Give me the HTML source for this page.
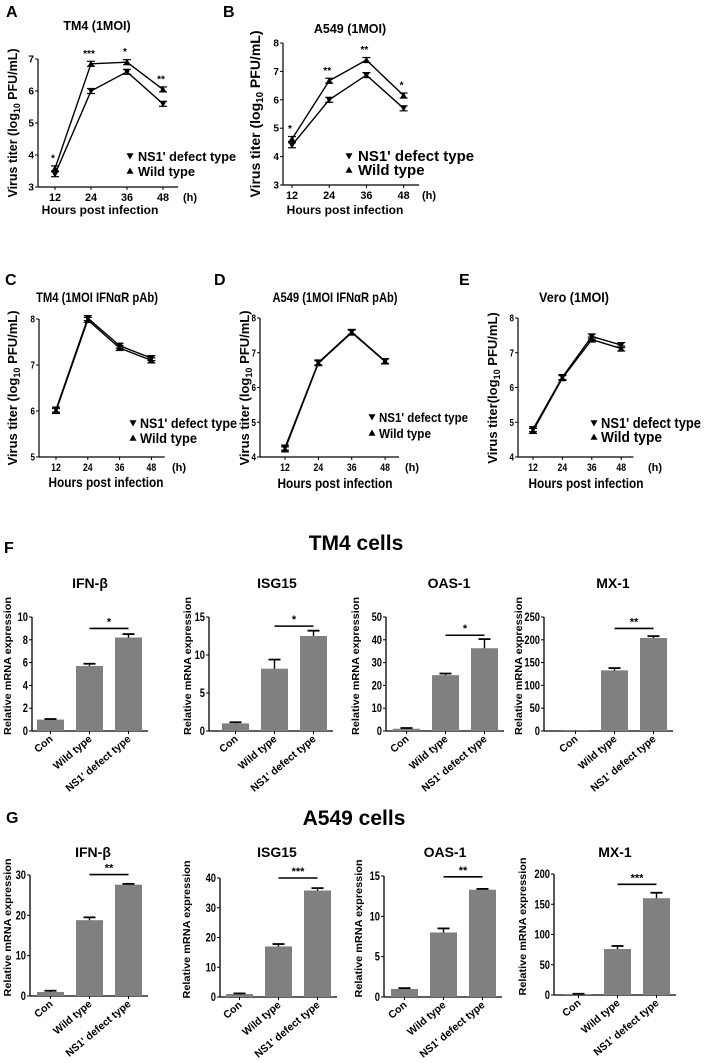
<!DOCTYPE html>
<html><head><meta charset="utf-8">
<style>
html,body{margin:0;padding:0;background:#fff;}
svg{display:block;font-family:"Liberation Sans",Arial,sans-serif;}
.b{font-weight:bold;}
</style></head>
<body>
<svg id="fig" width="706" height="1063" viewBox="0 0 706 1063" xmlns="http://www.w3.org/2000/svg">
</svg>
<script>
// ---------- DATA ----------
const hours=[12,24,36,48];
const A_ns=[3.4,6.0,6.6,5.6];
const A_wt=[3.58,6.85,6.9,6.05];
const A_sig=['*','***','*','**'];
const B_ns=[4.4,6.0,6.87,5.7];
const B_wt=[4.62,6.67,7.4,6.15];
const B_sig=['*','**','**','*'];
const C_ns=[6.03,8.02,7.42,7.15];
const C_wt=[6.0,7.98,7.37,7.1];
const D_ns=[4.27,6.72,7.6,6.76];
const D_wt=[4.22,6.7,7.58,6.75];
const E_ns=[4.8,6.3,7.47,7.22];
const E_wt=[4.75,6.27,7.38,7.12];
const groups=['Con','Wild type',"NS1' defect type"];
const F_ifn=[1.0,5.7,8.2], F_ifn_err=[0.05,0.2,0.3];
const F_isg=[1.0,8.2,12.5], F_isg_err=[0.15,1.2,0.7];
const F_oas=[1.0,24.5,36.3], F_oas_err=[0.3,0.7,4.0];
const F_mx=[0.5,133,204], F_mx_err=[0,5,4];
const G_ifn=[1.0,18.8,27.6], G_ifn_err=[0.3,0.7,0.2];
const G_isg=[1.0,17.0,35.8], G_isg_err=[0.2,0.8,0.8];
const G_oas=[1.0,8.0,13.3], G_oas_err=[0.1,0.5,0.1];
const G_mx=[1.5,76,160], G_mx_err=[0.5,5,9];
const ticks_F_ifn=[0,2,4,6,8,10], ticks_F_isg=[0,5,10,15], ticks_F_oas=[0,10,20,30,40,50], ticks_F_mx=[0,50,100,150,200,250];
const ticks_G_ifn=[0,10,20,30], ticks_G_isg=[0,10,20,30,40], ticks_G_oas=[0,5,10,15], ticks_G_mx=[0,50,100,150,200];

// ---------- HELPERS ----------
const svg=document.getElementById('fig');
const NS='http://www.w3.org/2000/svg';
function mk(tag,attrs,parent,txt){const e=document.createElementNS(NS,tag);for(const k in attrs)e.setAttribute(k,attrs[k]);if(txt!==undefined)e.textContent=txt;(parent||svg).appendChild(e);return e;}
function grp(name){const g=mk('g',{});


return g;}
function txt(p,x,y,s,size,extra,tl){const a=Object.assign({x:x,y:y,'font-size':size,class:'b'},extra||{});if(tl){a.textLength=tl;a.lengthAdjust='spacingAndGlyphs';}const t=mk('text',a,p,s);


return t;}
function tri(p,x,y,down,s){s=s||3.6;const pts=down?`${x-s},${y-s*0.8} ${x+s},${y-s*0.8} ${x},${y+s}`:`${x-s},${y+s*0.8} ${x+s},${y+s*0.8} ${x},${y-s}`;const e=mk('polygon',{points:pts,fill:'#000'},p);


return e;}

function lineChart(o){
  const g=grp(o.name);
  const X=h=>o.x0+(h-12)*o.step;
  const Y=v=>o.yb-(v-o.ymin)*(o.yb-o.yt)/(o.ymax-o.ymin);
  const nar=o.narrow?0.8:1;
  mk('line',{x1:o.ax,y1:Y(o.ymax),x2:o.ax,y2:o.yb,stroke:'#000','stroke-width':1.2},g);
  mk('line',{x1:o.ax,y1:o.yb,x2:X(48)+o.step*5,y2:o.yb,stroke:'#000','stroke-width':1.2},g);
  for(let v=o.ymin;v<=o.ymax;v++){mk('line',{x1:o.ax-3,y1:Y(v),x2:o.ax,y2:Y(v),stroke:'#000'},g);txt(g,o.ax-4,Y(v)+o.fs*0.35,String(v),o.fs,{'text-anchor':'end'},o.fs*0.56*nar);}
  hours.forEach(h=>{mk('line',{x1:X(h),y1:o.yb,x2:X(h),y2:o.yb+3,stroke:'#000'},g);txt(g,X(h),o.xty,String(h),o.fs+1,{'text-anchor':'middle'},(o.fs+1)*1.1*nar);});
  txt(g,o.hx,o.xty,'(h)',o.fs+1,{'text-anchor':'start'});
  [[o.ns,true],[o.wt,false]].forEach(([arr,down])=>{
    const d=arr.map((v,i)=>(i?'L':'M')+X(hours[i])+','+Y(v)).join(' ');
    const pl=mk('path',{d:d,fill:'none',stroke:'#000','stroke-width':1.4},g);
    
    
    arr.forEach((v,i)=>{const x=X(hours[i]),y=Y(v);
      mk('line',{x1:x-4,y1:y-2.5,x2:x+4,y2:y-2.5,stroke:'#000','stroke-width':1.2},g);
      mk('line',{x1:x-4,y1:y+2.5,x2:x+4,y2:y+2.5,stroke:'#000','stroke-width':1.2},g);
      tri(g,x,y,down,o.ms||3.4);});
  });
  if(o.sig)o.sig.forEach((s,i)=>{const v=Math.max(o.ns[i],o.wt[i]);txt(g,X(hours[i])-2,Y(v)-7,s,10,{'text-anchor':'middle'});});
  tri(g,o.lx,o.ly,true,3.5);txt(g,o.ltx,o.ly+5,"NS1' defect type",o.lfs,{},o.ltl1);
  tri(g,o.lx,o.ly+o.lg,false,3.5);txt(g,o.ltx,o.ly+o.lg+5,'Wild type',o.lfs,{},o.ltl2);
  txt(g,o.tx,o.ty,o.title,o.tfs,{'text-anchor':'middle'},o.ttl);
  txt(g,o.xlx,o.xly,'Hours post infection',o.hfs||12,{'text-anchor':'middle'},o.htl);
  const yl=mk('text',{transform:`translate(${o.ylx},${o.ylc}) rotate(-90)`,'text-anchor':'middle','font-size':o.ylfs||12,class:'b'},g);
  
  
  yl.appendChild(document.createTextNode(o.ylab));
  mk('tspan',{'font-size':(o.ylfs||12)*0.7,dy:3},yl,'10');
  mk('tspan',{dy:-3},yl,' PFU/mL)');
  txt(g,o.letX,o.letY,o.letter,16,{});
}

function barChart(o){
  const g=grp(o.name);
  const Y=v=>o.yb-v*(o.yb-o.yt)/o.ymax;
  const w=27, sp=39;
  const bx=i=>o.ax+o.s+i*sp;
  mk('line',{x1:o.ax,y1:o.yt,x2:o.ax,y2:o.yb,stroke:'#000','stroke-width':1.3},g);
  mk('line',{x1:o.ax,y1:o.yb,x2:bx(2)+w+6,y2:o.yb,stroke:'#000','stroke-width':1.3},g);
  o.ticks.forEach(v=>{mk('line',{x1:o.ax-3,y1:Y(v),x2:o.ax,y2:Y(v),stroke:'#000'},g);const s=String(v);txt(g,o.ax-4,Y(v)+4,s,12,{'text-anchor':'end'},s.length*5.2);});
  o.vals.forEach((v,i)=>{const x=bx(i);
    const r=mk('rect',{x:x,y:Y(v),width:w,height:o.yb-Y(v),fill:'#808080'},g);
    
    
    const e=o.errs[i];if(e>0){mk('line',{x1:x+w/2,y1:Y(v),x2:x+w/2,y2:Y(v+e),stroke:'#000','stroke-width':1.4},g);mk('line',{x1:x+w/2-6,y1:Y(v+e),x2:x+w/2+6,y2:Y(v+e),stroke:'#000','stroke-width':1.8},g);}
    const cx=x+w/2;
    mk('line',{x1:cx,y1:o.yb,x2:cx,y2:o.yb+3,stroke:'#000'},g);
    txt(g,cx+3,o.yb+9,groups[i],10.5,{'text-anchor':'end',transform:`rotate(-40 ${cx+3} ${o.yb+9})`});
  });
  const sy=Y(o.sigv);
  mk('line',{x1:bx(1)+w/2,y1:sy,x2:bx(2)+w/2,y2:sy,stroke:'#000','stroke-width':1.6},g);
  txt(g,(bx(1)+bx(2))/2+w/2,sy-3,o.sig,11,{'text-anchor':'middle'});
  txt(g,o.tx,o.ty,o.title,14,{'text-anchor':'middle'});
  txt(g,0,0,'Relative mRNA expression',10.5,{'text-anchor':'middle',transform:`translate(${o.ylx+4},${(o.yt+o.yb)/2-8}) rotate(-90)`},138);
}

// ---------- PANELS ----------
lineChart({name:'panel-a',ns:A_ns,wt:A_wt,sig:A_sig,ax:38,x0:55,step:3,yt:59,yb:187,ymin:3,ymax:7,fs:10,xty:201,hx:183,
  lx:130,ltx:138,ly:156,lg:15,lfs:13,ltl1:98,ltl2:57,tx:97,ty:30,title:'TM4 (1MOI)',tfs:12.5,xlx:100,xly:214,ylx:17,ylc:123,ylab:'Virus titer (log',ylfs:12.5,letter:'A',letX:6,letY:17});
lineChart({name:'panel-b',ns:B_ns,wt:B_wt,sig:B_sig,ax:283,x0:292,step:3.1,yt:43,yb:185,ymin:3,ymax:8,fs:10,xty:199,hx:422,
  lx:349,ltx:358,ly:156,lg:14,lfs:15,tx:350,ty:33,title:'A549 (1MOI)',tfs:12.5,xlx:345,xly:214,ylx:260,ylc:114,ylab:'Virus titer (log',ylfs:14,letter:'B',letX:223,letY:17});
lineChart({name:'panel-c',ns:C_ns,wt:C_wt,ax:39,x0:56,step:2.65,yt:319,yb:457,ymin:5,ymax:8,fs:10,narrow:true,xty:471,hx:172,
  lx:133,ltx:140,ly:423,lg:15,lfs:14,ltl1:97,ltl2:57,tx:97,ty:302,title:'TM4 (1MOI  IFNαR pAb)',tfs:14,ttl:122,xlx:106,xly:487,hfs:14,htl:115,ylx:17,ylc:388,ylab:'Virus titer (log',ylfs:13,letter:'C',letX:5,letY:285});
lineChart({name:'panel-d',ns:D_ns,wt:D_wt,ax:260,x0:285,step:2.78,yt:318,yb:457,ymin:4,ymax:8,fs:10,narrow:true,xty:471,hx:405,
  lx:372,ltx:379,ly:417,lg:16,lfs:13,ltl1:89,ltl2:52,tx:335,ty:302,title:'A549 (1MOI  IFNαR pAb)',tfs:14,ttl:125,xlx:335,xly:488,hfs:14,htl:115,ylx:249,ylc:388,ylab:'Virus titer (log',ylfs:13,letter:'D',letX:214,letY:285});
lineChart({name:'panel-e',ns:E_ns,wt:E_wt,ax:518,x0:533,step:2.45,yt:318,yb:457,ymin:4,ymax:8,fs:10,narrow:true,xty:471,hx:648,
  lx:594,ltx:601,ly:423,lg:14,lfs:15,ltl1:100,ltl2:61,tx:574,ty:302,title:'Vero (1MOI)',tfs:14,ttl:70,xlx:586,xly:488,hfs:14,htl:115,ylx:497,ylc:388,ylab:'Virus titer(log',ylfs:13,letter:'E',letX:459,letY:285});

// F
txt(svg,356,550,'TM4 cells',21,{'text-anchor':'middle'});
txt(svg,4,553,'F',16,{});
barChart({name:'f-ifn-beta',vals:F_ifn,errs:F_ifn_err,ticks:ticks_F_ifn,ymax:10,ax:32,s:5,yt:617,yb:731,sig:'*',sigv:9.0,title:'IFN-β',tx:90,ty:588,ylx:7});
barChart({name:'f-isg15',vals:F_isg,errs:F_isg_err,ticks:ticks_F_isg,ymax:15,ax:209,s:13,yt:617,yb:731,sig:'*',sigv:13.8,title:'ISG15',tx:277,ty:588,ylx:187});
barChart({name:'f-oas1',vals:F_oas,errs:F_oas_err,ticks:ticks_F_oas,ymax:50,ax:386,s:7,yt:617,yb:731,sig:'*',sigv:42,title:'OAS-1',tx:449,ty:588,ylx:355});
barChart({name:'f-mx1',vals:F_mx,errs:F_mx_err,ticks:ticks_F_mx,ymax:250,ax:544,s:18,yt:617,yb:731,sig:'**',sigv:225,title:'MX-1',tx:613,ty:588,ylx:518});
// G
txt(svg,354,825,'A549 cells',21,{'text-anchor':'middle'});
txt(svg,6,823,'G',16,{});
barChart({name:'g-ifn-beta',vals:G_ifn,errs:G_ifn_err,ticks:ticks_G_ifn,ymax:30,ax:30,s:7,yt:875,yb:996,sig:'**',sigv:30.1,title:'IFN-β',tx:93,ty:857,ylx:7});
barChart({name:'g-isg15',vals:G_isg,errs:G_isg_err,ticks:ticks_G_isg,ymax:40,ax:220,s:6,yt:878,yb:997,sig:'***',sigv:40,title:'ISG15',tx:277,ty:857,ylx:186});
barChart({name:'g-oas1',vals:G_oas,errs:G_oas_err,ticks:ticks_G_oas,ymax:15,ax:384,s:7,yt:876,yb:997,sig:'**',sigv:14.9,title:'OAS-1',tx:445,ty:857,ylx:358});
barChart({name:'g-mx1',vals:G_mx,errs:G_mx_err,ticks:ticks_G_mx,ymax:200,ax:554,s:11,yt:874,yb:995,sig:'***',sigv:183,title:'MX-1',tx:615,ty:857,ylx:522});
</script>
</body></html>
